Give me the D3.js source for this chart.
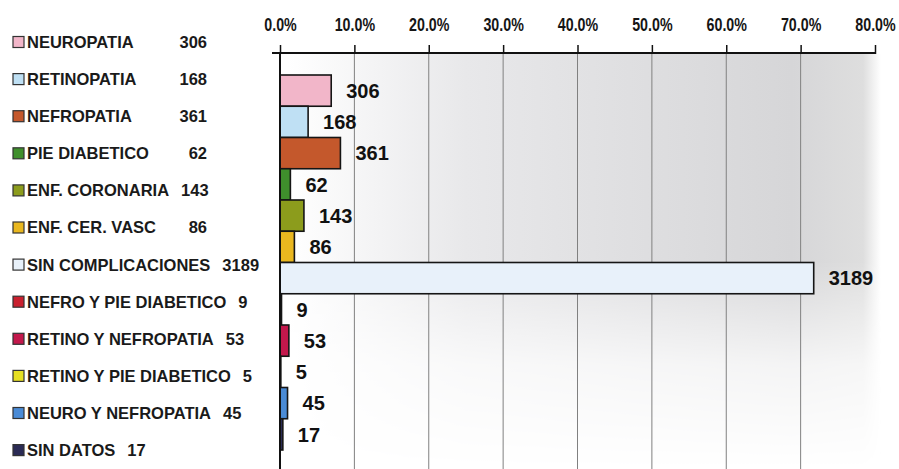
<!DOCTYPE html>
<html>
<head>
<meta charset="utf-8">
<script src="https://cdn.jsdelivr.net/npm/d3@7/dist/d3.min.js"></script>
<style>
  html, body { margin: 0; padding: 0; background: #ffffff; }
  svg { display: block; }
</style>
</head>
<body>
<script>
// ---- data ----
const categories = [
  "NEUROPATIA", "RETINOPATIA", "NEFROPATIA", "PIE DIABETICO",
  "ENF. CORONARIA", "ENF. CER. VASC", "SIN COMPLICACIONES",
  "NEFRO Y PIE DIABETICO", "RETINO Y NEFROPATIA", "RETINO Y PIE DIABETICO",
  "NEURO Y NEFROPATIA", "SIN DATOS"
];
const counts = [306, 168, 361, 62, 143, 86, 3189, 9, 53, 5, 45, 17];
const colors = [
  "#f2b6c9", "#bfe0f4", "#c4582c", "#3f8f2c",
  "#8c9c1c", "#e9b71f", "#e8f1fa",
  "#c9202f", "#c3184c", "#e6df22",
  "#4a8bd6", "#2b2b55"
];
const tickValues = [0, 0.1, 0.2, 0.3, 0.4, 0.5, 0.6, 0.7, 0.8];

const W = 899, H = 469;
const total = d3.sum(counts);
const data = categories.map((c, i) => ({ name: c, value: counts[i], pct: counts[i] / total, color: colors[i] }));

const svg = d3.select("body").append("svg").attr("width", W).attr("height", H);
const defs = svg.append("defs");

const x = d3.scaleLinear().domain([0, 0.8]).range([280, 875]);
const y = d3.scaleBand().domain(categories).range([75, 450]).padding(0);
const axisY = 53;

// ---- background shading (scanned gray panel) ----
const hg = defs.append("linearGradient").attr("id", "hg").attr("x1", 0).attr("x2", 1).attr("y1", 0).attr("y2", 0);
hg.append("stop").attr("offset", "0").attr("stop-color", "#ffffff");
hg.append("stop").attr("offset", "0.3").attr("stop-color", "#e8e8ea");
hg.append("stop").attr("offset", "0.85").attr("stop-color", "#d6d6d8");
hg.append("stop").attr("offset", "0.97").attr("stop-color", "#dedede");
hg.append("stop").attr("offset", "1").attr("stop-color", "#ffffff");
const vg = defs.append("linearGradient").attr("id", "vg").attr("x1", 0).attr("x2", 0).attr("y1", 0).attr("y2", 1);
vg.append("stop").attr("offset", "0").attr("stop-color", "#fff");
vg.append("stop").attr("offset", "0.5").attr("stop-color", "#fff");
vg.append("stop").attr("offset", "0.75").attr("stop-color", "#444");
vg.append("stop").attr("offset", "1").attr("stop-color", "#000");
const mask = defs.append("mask").attr("id", "vm");
mask.append("rect").attr("x", 0).attr("y", axisY).attr("width", W).attr("height", H - axisY).attr("fill", "url(#vg)");
svg.append("rect")
  .attr("x", x(0.01)).attr("y", axisY + 1)
  .attr("width", x(0.808) - x(0.01)).attr("height", H - axisY)
  .attr("fill", "url(#hg)").attr("mask", "url(#vm)");

// ---- gridlines ----
svg.append("g").selectAll("line").data(tickValues.slice(1, -1)).join("line")
  .attr("x1", d => x(d)).attr("x2", d => x(d))
  .attr("y1", axisY).attr("y2", H)
  .attr("stroke", "#808080").attr("stroke-width", 1);

// ---- top axis ----
const axis = d3.axisTop(x).tickValues(tickValues).tickFormat(d3.format(".1%"))
  .tickSizeInner(8).tickSizeOuter(0).tickPadding(14);
const gAxis = svg.append("g").attr("transform", `translate(0,${axisY})`).call(axis);
gAxis.select(".domain").remove();
gAxis.selectAll(".tick line").attr("stroke", "#111").attr("stroke-width", 1.5).attr("y2", -8).attr("y1", 1);
gAxis.selectAll(".tick text")
  .attr("fill", "#151515")
  .attr("transform", "scale(0.75,1)")
  .style("font-family", "'Liberation Sans', Arial, sans-serif")
  .style("font-weight", "bold")
  .style("font-size", "19px");
svg.append("line").attr("x1", 272).attr("x2", x(0.8) + 1).attr("y1", axisY).attr("y2", axisY)
  .attr("stroke", "#111").attr("stroke-width", 2);

// ---- bars ----
svg.append("g").selectAll("rect").data(data).join("rect")
  .attr("x", x(0))
  .attr("y", d => y(d.name))
  .attr("width", d => x(d.pct) - x(0))
  .attr("height", y.bandwidth())
  .attr("fill", d => d.color)
  .attr("stroke", "#151515").attr("stroke-width", 1.6);

// vertical zero axis
svg.append("line").attr("x1", x(0)).attr("x2", x(0)).attr("y1", axisY).attr("y2", H)
  .attr("stroke", "#111").attr("stroke-width", 2);

// ---- value labels ----
svg.append("g").selectAll("text").data(data).join("text")
  .attr("x", d => x(d.pct) + 15)
  .attr("y", d => y(d.name) + y.bandwidth() / 2)
  .attr("dy", "0.36em")
  .attr("fill", "#111")
  .style("font-family", "'Liberation Sans', Arial, sans-serif")
  .style("font-weight", "bold")
  .style("font-size", "20px")
  .text(d => d.value);

// ---- legend ----
const legY = i => 42 + i * 37.1;
const leg = svg.append("g").selectAll("g").data(data).join("g")
  .attr("transform", (d, i) => `translate(0,${legY(i)})`);
leg.append("rect").attr("x", 13).attr("y", -5.5).attr("width", 11).attr("height", 11)
  .attr("fill", d => d.color).attr("stroke", "#333").attr("stroke-width", 1.2);
const legFont = sel => sel.attr("fill", "#1a1a1a")
  .style("font-family", "'Liberation Sans', Arial, sans-serif")
  .style("font-weight", "bold").style("font-size", "16.5px").attr("dy", "0.36em");
leg.append("text").attr("class", "lname").attr("x", 27).call(legFont).text(d => d.name);
leg.append("text").attr("class", "lval").call(legFont).text(d => d.value);
leg.each(function (d, i) {
  const g = d3.select(this);
  const labelEnd = 27 + g.select(".lname").node().getComputedTextLength();
  const valW = g.select(".lval").node().getComputedTextLength();
  let vx;
  if (i === data.length - 1) vx = labelEnd + 12;
  else vx = Math.max(207 - valW, labelEnd + 12);
  g.select(".lval").attr("x", vx);
});
</script>
</body>
</html>
